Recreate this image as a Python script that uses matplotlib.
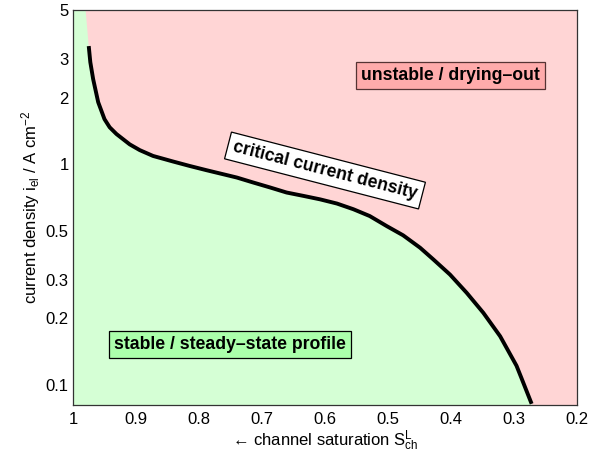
import matplotlib
matplotlib.use("Agg")
import matplotlib.pyplot as plt
from matplotlib.ticker import FixedLocator, FixedFormatter, NullLocator

plt.rcParams['font.family'] = ['Liberation Sans', 'DejaVu Sans']
plt.rcParams['mathtext.fontset'] = 'custom'
plt.rcParams['mathtext.rm'] = 'Liberation Sans'
plt.rcParams['mathtext.it'] = 'Liberation Sans'

# critical current density vs. channel saturation
saturation = [0.975, 0.9725, 0.968, 0.960, 0.950, 0.9418, 0.931,
              0.910, 0.894, 0.873, 0.841, 0.815, 0.788, 0.762, 0.740, 0.714,
              0.687, 0.661, 0.634, 0.608, 0.581, 0.555, 0.529, 0.502, 0.476,
              0.449, 0.428, 0.4016, 0.375, 0.3487, 0.322, 0.296, 0.288,
              0.272]
current = [3.43, 2.90, 2.43, 1.91, 1.60, 1.47, 1.37,
           1.23, 1.158, 1.09, 1.028, 0.982, 0.939, 0.901, 0.870, 0.826,
           0.784, 0.744, 0.718, 0.693, 0.663, 0.625, 0.582, 0.524, 0.476,
           0.418, 0.370, 0.316, 0.261, 0.212, 0.166, 0.122, 0.107,
           0.082]

x_ticks = [1, 0.9, 0.8, 0.7, 0.6, 0.5, 0.4, 0.3, 0.2]
x_labels = ['1', '0.9', '0.8', '0.7', '0.6', '0.5', '0.4', '0.3', '0.2']
y_ticks = [0.1, 0.2, 0.3, 0.5, 1, 2, 3, 5]
y_labels = ['0.1', '0.2', '0.3', '0.5', '1', '2', '3', '5']

x_range = (1.0, 0.2)
y_range = (0.081, 5.0)
top_edge_x = 0.980  # where the stable region meets the upper boundary

pink = (1.0, 0.835, 0.835)
green = (0.835, 1.0, 0.835)

fig = plt.figure(figsize=(5.91, 4.62), dpi=100)
ax = fig.add_axes([0.1235, 0.1234, 0.8528, 0.855])
ax.set_facecolor(pink)
ax.set_yscale('log')

# stable region below the critical curve
poly_x = [x_range[0], x_range[0], top_edge_x] + saturation + [saturation[-1]]
poly_y = [y_range[0], y_range[1], y_range[1]] + current + [y_range[0]]
ax.fill(poly_x, poly_y, color=green, lw=0, zorder=1)

ax.plot(saturation, current, color='black', lw=2.8, zorder=3,
        solid_capstyle='butt', solid_joinstyle='round')

ax.set_xlim(*x_range)
ax.set_ylim(*y_range)
ax.xaxis.set_major_locator(FixedLocator(x_ticks))
ax.xaxis.set_major_formatter(FixedFormatter(x_labels))
ax.yaxis.set_major_locator(FixedLocator(y_ticks))
ax.yaxis.set_major_formatter(FixedFormatter(y_labels))
ax.yaxis.set_minor_locator(NullLocator())
ax.tick_params(length=0, labelsize=12, colors='black')
ax.tick_params(axis='x', pad=5)
ax.tick_params(axis='y', pad=3)
for s in ax.spines.values():
    s.set_color('#333333')
    s.set_linewidth(0.9)
    s.set_zorder(5)

ax.set_xlabel('\u2190 channel saturation S$^{\\mathrm{L}}_{\\mathrm{ch}}$',
              fontsize=12, labelpad=1)
ax.set_ylabel(r'current density i$_{\mathrm{el}}$ / A cm$^{-2}$',
              fontsize=12, labelpad=3)

box_font = 12.7
ax.text(0.401, 2.52, 'unstable / drying\u2013out', fontsize=box_font,
        fontweight='bold', ha='center', va='center', zorder=6,
        bbox=dict(boxstyle='square,pad=0.3', fc=(1.0, 0.67, 0.67),
                  ec='#553333', lw=0.9))
ax.text(0.600, 0.936, 'critical current density', fontsize=box_font,
        fontweight='bold', ha='center', va='center', rotation=-14.5,
        rotation_mode='anchor', zorder=6,
        bbox=dict(boxstyle='square,pad=0.3', fc='white', ec='black', lw=0.9))
ax.text(0.751, 0.152, 'stable / steady\u2013state profile', fontsize=box_font,
        fontweight='bold', ha='center', va='center', zorder=6,
        bbox=dict(boxstyle='square,pad=0.3', fc=(0.67, 1.0, 0.67),
                  ec='black', lw=0.9))

fig.savefig('out.png', dpi=100)
